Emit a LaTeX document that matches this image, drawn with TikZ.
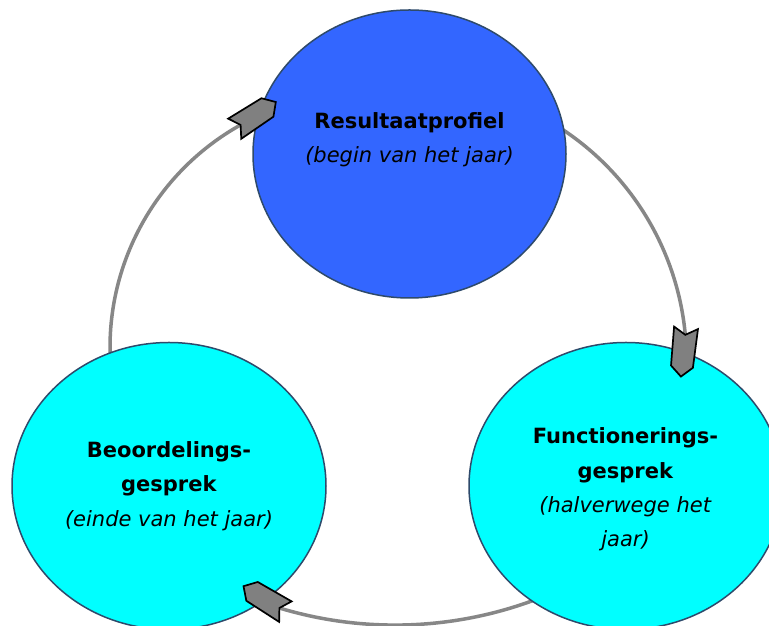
\documentclass[tikz,border=0pt]{standalone}
\usepackage{fontspec}
\setmainfont{DejaVu Sans}[BoldFont={DejaVu Sans Bold},ItalicFont={DejaVu Sans Oblique},BoldItalicFont={DejaVu Sans Bold Oblique}]
\usetikzlibrary{shapes.geometric,calc}
\definecolor{topblue}{HTML}{3366FF}
\definecolor{cyanfill}{HTML}{00FFFF}
\definecolor{edgeblue}{HTML}{2E4A6B}
\definecolor{arcgray}{HTML}{878787}
\definecolor{headgray}{HTML}{808080}
\begin{document}
\begin{tikzpicture}[x=1pt,y=1pt,
  bubble/.style={ellipse, draw=edgeblue, line width=1.5pt, minimum width=314pt, minimum height=287pt, inner sep=0pt},
  cycarc/.style={draw=arcgray, line width=3.5pt},
  headshape/.style={fill=headgray, draw=black, line width=1.7pt, line join=miter},
  lbl/.style={align=center, font=\fontsize{21}{34.3}\selectfont, inner sep=0pt},
  cyclehead/.pic={\path[headshape] (-7,12) -- (0,0) -- (-7,-12) -- (32,-11) -- (42,0) -- (32,11) -- cycle;}
]
\useasboundingbox (0,0) rectangle (769,626);
\clip (0,0) rectangle (769,626);
\fill[white] (0,0) rectangle (769,626);

% arc centres and end points
\coordinate (cR) at (409.5,265.6);
\coordinate (cL) at (365,278.5);
\coordinate (cB) at (395,400.9);
\coordinate (sR) at ($(cR)+(60:277)$);
\coordinate (eR) at ($(cR)+(5.3:277)$);
\coordinate (sL) at ($(cL)+(185:255)$);
\coordinate (eL) at ($(cL)+(119.2:255)$);
\coordinate (sB) at ($(cB)+(-68:400)$);
\coordinate (eB) at ($(cB)+(-106.8:400)$);

% connectors (behind the ellipses)
\draw[cycarc] (sR) arc[start angle=60, end angle=5.3, radius=277];
\draw[cycarc] (sB) arc[start angle=-68, end angle=-106.8, radius=400];
\draw[cycarc] (sL) arc[start angle=185, end angle=119.2, radius=255];

% ellipses
\node[bubble, fill=topblue, minimum width=313pt, minimum height=288pt] (top) at (409.5,472) {};
\node[bubble, fill=cyanfill] (right) at (626,140) {};
\node[bubble, fill=cyanfill] (left) at (169,140) {};

% texts
\node[lbl] (ttop) at (409.5,486) {\textbf{Resultaatprofiel}\\\textit{(begin van het jaar)}};
\node[lbl] (tright) at (625.5,136.5) {\textbf{Functionerings-}\\\textbf{gesprek}\\\textit{(halverwege het}\\\textit{jaar)}};
\node[lbl] (tleft) at (169,140) {\textbf{Beoordelings-}\\\textbf{gesprek}\\\textit{(einde van het jaar)}};

% arrowheads
\pic[rotate=-96] at (eR) {cyclehead};
\pic[rotate=148.7] at (eB) {cyclehead};
\pic[rotate=33] at (eL) {cyclehead};
\end{tikzpicture}
\end{document}
